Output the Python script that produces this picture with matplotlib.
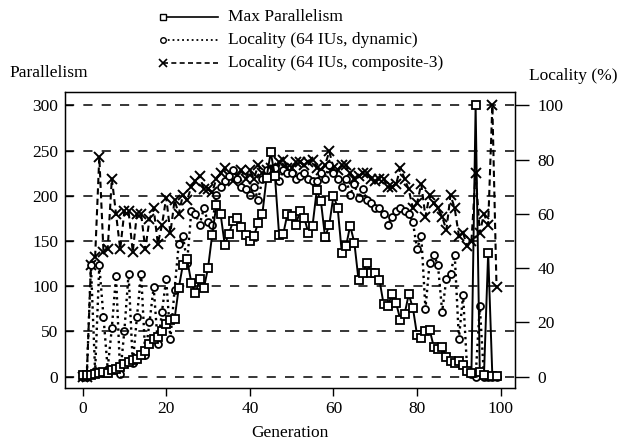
import matplotlib
matplotlib.use("Agg")
import matplotlib.pyplot as plt
from matplotlib.lines import Line2D

plt.rcParams['font.family'] = ['Liberation Serif', 'DejaVu Serif']

generation = list(range(100))

# Max parallelism (left axis)
max_par = [2, 2, 2, 3, 4, 5, 4, 7, 9, 11,
           14, 16, 18, 20, 24, 28, 36, 42, 44, 50,
           58, 63, 64, 98, 124, 130, 104, 92, 108, 98,
           120, 157, 190, 180, 146, 158, 172, 175, 166, 157,
           150, 156, 170, 180, 220, 248, 222, 157, 158, 180,
           178, 168, 183, 176, 159, 167, 206, 194, 154, 168,
           200, 187, 137, 144, 167, 148, 107, 115, 126, 115,
           115, 107, 80, 78, 91, 81, 63, 69, 91, 76,
           46, 43, 50, 52, 33, 31, 33, 22, 17, 15,
           17, 13, 6, 4, 300, 5, 2, 137, 1, 1]

# Locality (64 IUs, dynamic), percent (right axis)
loc_dynamic = [0, 0, 41, 2, 41, 22, 3, 18, 37, 1,
               17, 38, 5, 22, 38, 8, 20, 33, 12, 24,
               36, 14, 32, 49, 52, 42, 61, 60, 56, 62,
               57, 56, 67, 70, 72, 74, 76, 73, 70, 69,
               67, 70, 65, 73, 76, 74, 77, 72, 76, 75,
               75, 73, 74, 75, 73, 72, 72, 75, 73, 78,
               75, 73, 70, 73, 67, 71, 66, 69, 65, 64,
               62, 62, 60, 56, 59, 61, 62, 61, 60, 57,
               47, 52, 25, 42, 45, 41, 24, 36, 38, 45,
               14, 30, 2, 1, 0, 26, 0, 0, 0, 0]

# Locality (64 IUs, composite-3), percent (right axis)
loc_composite = [0, 0, 41, 44, 81, 46, 47, 73, 60, 47,
                 61, 61, 46, 60, 60, 47, 58, 62, 49, 56,
                 66, 53, 65, 60, 67, 65, 70, 72, 74, 69,
                 69, 68, 73, 75, 77, 74, 72, 74, 76, 73,
                 76, 73, 78, 75, 76, 77, 76, 79, 80, 77,
                 77, 79, 79, 78, 79, 80, 77, 76, 78, 83,
                 77, 76, 78, 78, 75, 73, 74, 75, 75, 73,
                 72, 73, 73, 70, 70, 71, 77, 73, 69, 62,
                 64, 71, 59, 67, 64, 62, 59, 54, 67, 62,
                 52, 53, 48, 50, 75, 53, 60, 56, 100, 33]

par_ticks = [0, 50, 100, 150, 200, 250, 300]
loc_ticks = [0, 20, 40, 60, 80, 100]
gen_ticks = [0, 20, 40, 60, 80, 100]

fs = 12.5

fig = plt.figure(figsize=(6.18, 4.45), dpi=100)
ax = fig.add_axes([0.1052, 0.128, 0.728, 0.665])
ax2 = ax.twinx()

ylo, yhi = -12.5, 314.6
ax.set_xlim(-4.2, 103.4)
ax.set_ylim(ylo, yhi)
ax2.set_ylim(ylo / 3, yhi / 3)

for y in par_ticks:
    ax.axhline(y, color='black', lw=1.1, dashes=(6, 6), zorder=1)

ax2.plot(generation, loc_composite, color='black', lw=1.5, dashes=(3, 2),
         marker='x', ms=6.5, mew=1.4, zorder=3)
ax2.plot(generation, loc_dynamic, color='black', lw=1.7, ls=':',
         marker='o', ms=5, mfc='white', mec='black', mew=1.3, zorder=4)
ax.set_zorder(ax2.get_zorder() + 1)
ax.patch.set_visible(False)
ax.plot(generation, max_par, color='black', lw=1.4,
        marker='s', ms=5.8, mfc='white', mec='black', mew=1.3, zorder=5)

ax.set_yticks(par_ticks)
ax.set_xticks(gen_ticks)
ax2.set_yticks(loc_ticks)
ax.tick_params(axis='y', direction='in', length=6, width=1, pad=5, labelsize=fs)
ax.tick_params(axis='x', direction='out', length=6, width=1, pad=3, labelsize=fs)
ax2.tick_params(axis='y', direction='out', length=10, width=1, pad=6, labelsize=fs)
for sp in ax.spines.values():
    sp.set_linewidth(1.0)

ax.set_xlabel('Generation', fontsize=fs, labelpad=6)
fig.text(0.016, 0.836, 'Parallelism', fontsize=fs, ha='left', va='center')
fig.text(0.856, 0.829, 'Locality (%)', fontsize=fs, ha='left', va='center')

# legend drawn by hand: marker sits at the left end of each sample line
legend_rows = [
    ('Max Parallelism', dict(ls='-', lw=1.2), dict(marker='s', ms=5, mfc='white')),
    ('Locality (64 IUs, dynamic)', dict(ls=':', lw=1.3), dict(marker='o', ms=4, mfc='white')),
    ('Locality (64 IUs, composite-3)', dict(ls=(0, (3, 2)), lw=1.2), dict(marker='x', ms=6, mew=1.2)),
]
x0, x1, xt = 163 / 618, 218 / 618, 228 / 618
for i, (label, lstyle, mstyle) in enumerate(legend_rows):
    yy = 1 - (17 + 23 * i) / 445
    fig.add_artist(Line2D([x0, x1], [yy, yy], transform=fig.transFigure,
                          color='black', **lstyle))
    fig.add_artist(Line2D([x0], [yy], transform=fig.transFigure, ls='none',
                          color='black', mec='black', **mstyle))
    fig.text(xt, yy, label, fontsize=fs, ha='left', va='center')

fig.savefig('out.png', dpi=100)
